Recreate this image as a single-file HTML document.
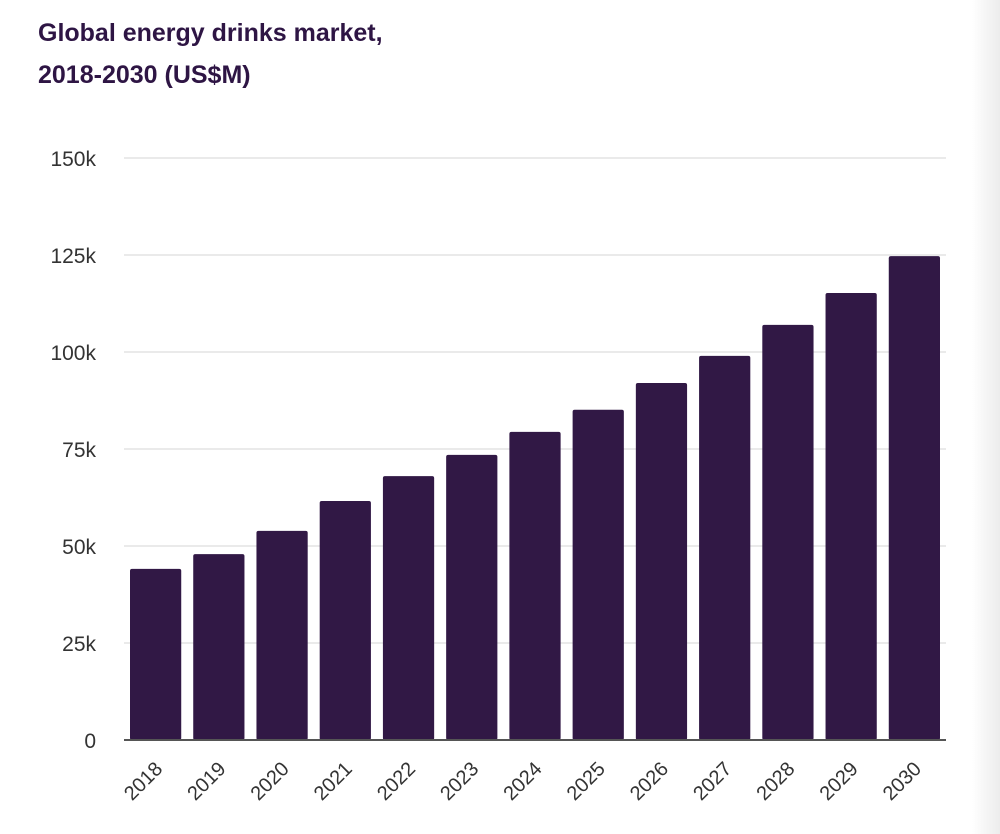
<!DOCTYPE html>
<html><head><meta charset="utf-8"><style>
body{margin:0;width:1000px;height:834px;background:#fff;overflow:hidden;font-family:"Liberation Sans",sans-serif;}
#title{position:absolute;left:38px;top:12px;font-size:25px;line-height:42px;font-weight:bold;color:#2e1544;}
#shade{position:absolute;right:0;top:0;width:28px;height:834px;background:linear-gradient(to right,rgba(240,240,240,0),rgba(236,236,236,1));}
</style></head><body>
<div id="title">Global energy drinks market,<br>2018-2030 (US$M)</div>
<div id="shade"></div>
<svg id="chart" width="1000" height="834" style="position:absolute;left:0;top:0"></svg>
<script>
const categories=["2018","2019","2020","2021","2022","2023","2024","2025","2026","2027","2028","2029","2030"];
const values=[44.1,47.9,53.9,61.6,68.0,73.5,79.4,85.1,92.0,99.0,107.0,115.2,124.7];
const tickValues=[0,25,50,75,100,125,150];
const tickLabels=["0","25k","50k","75k","100k","125k","150k"];
const svg=document.getElementById('chart');
const NS="http://www.w3.org/2000/svg";
const x0=124,x1=946,y0=740,y1=158,yMax=150;
const y=v=>y0-(v/yMax)*(y0-y1);
const band=(x1-x0)/categories.length;
const xb=i=>x0+i*band;
function mk(t,a){const e=document.createElementNS(NS,t);for(const k in a)e.setAttribute(k,a[k]);svg.appendChild(e);return e;}
tickValues.forEach((v,i)=>{
 if(v>0){const g=mk('line',{x1:x0,x2:x1,y1:y(v),y2:y(v),stroke:'#e3e3e3','stroke-width':1.5});
 
 }
 const t=mk('text',{x:96,y:y(v)+8,'text-anchor':'end','font-size':21,fill:'#333'});
 t.textContent=tickLabels[i];
 
 
});
categories.forEach((c,i)=>{
 const r=mk('rect',{x:xb(i)+6,y:y(values[i]),width:band-12,height:y0-y(values[i]),fill:'#311845',rx:2});
 
 
 const cx=xb(i)+band/2+8, cy=y0+30;
 const t=mk('text',{x:cx,y:cy,'text-anchor':'end','font-size':20,fill:'#333',transform:`rotate(-45 ${cx} ${cy})`});
 t.textContent=c;
 
 
});
const ax=mk('line',{x1:x0,x2:x1,y1:y0,y2:y0,stroke:'#555','stroke-width':2});


</script>
</body></html>
